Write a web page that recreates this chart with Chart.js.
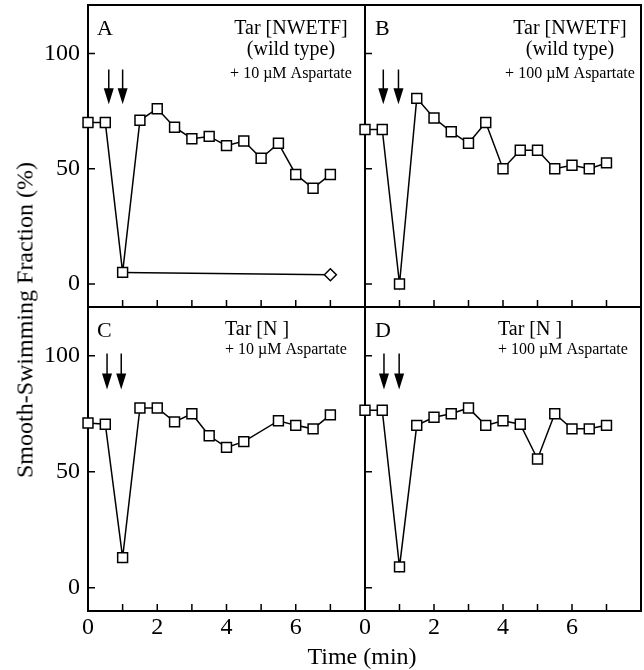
<!DOCTYPE html>
<html>
<head>
<meta charset="utf-8">
<script src="https://cdn.jsdelivr.net/npm/chart.js@4.4.1/dist/chart.umd.min.js"></script>
<style>
  html, body { margin: 0; padding: 0; background: #fff; }
  #wrap { position: relative; width: 644px; height: 670px; overflow: hidden;
          font-family: "Liberation Serif", "Times New Roman", serif; color: #000; }
  #wrap canvas { position: absolute; }
  .ytitle { position: absolute; left: 25px; top: 320px; white-space: nowrap; font-size: 24px;
            transform: translate(-50%, -50%) rotate(-90deg); }
  .xtitle { position: absolute; left: 362px; top: 656px; white-space: nowrap; font-size: 24px;
            transform: translate(-50%, -50%); }
</style>
</head>
<body>
<div id="wrap">
  <canvas id="pA" width="368" height="309" style="left:0;top:0"></canvas>
  <canvas id="pC" width="368" height="370" style="left:0;top:300px"></canvas>
  <canvas id="pB" width="304" height="309" style="left:340px;top:0"></canvas>
  <canvas id="pD" width="304" height="370" style="left:340px;top:300px"></canvas>
  <div class="ytitle">Smooth-Swimming Fraction (%)</div>
  <div class="xtitle">Time (min)</div>
</div>
<script>
// Sampling times (min)
const times = [0, 0.5, 1, 1.5, 2, 2.5, 3, 3.5, 4, 4.5, 5, 5.5, 6, 6.5, 7];
const timesNoFive = [0, 0.5, 1, 1.5, 2, 2.5, 3, 3.5, 4, 4.5, 5.5, 6, 6.5, 7];

// Smooth-swimming fraction (%)
const wildType10 = [70, 70, 5, 71, 76, 68, 63, 64, 60, 62, 54.5, 61, 47.5, 41.5, 47.5];
const wildType100 = [67, 67, 0, 80.5, 72, 66, 61, 70, 50, 58, 58, 50, 51.5, 50, 52.5];
const tarN10 = [71, 70.5, 13, 77.5, 77.5, 71.5, 75, 65.5, 60.5, 63, 72, 70, 68.5, 74.5];
const tarN100 = [76.5, 76.5, 9, 70, 73.5, 75, 77.5, 70, 72, 70.5, 55.5, 75, 68.5, 68.5, 70];

// Control run in panel A (drop and end point)
const controlTimes = [1, 7];
const control10 = [5, 4];

// Axis ticks
const yTickValues = [0, 50, 100];
const xLabelValues = [0, 2, 4, 6];
const xTickMarks = [1, 2, 3, 4, 5, 6, 7];

// Addition arrows: times (min) and vertical extent (%)
const arrowTimesA = [0.6, 1.0];
const arrowTimesB = [0.53, 0.97];
const arrowTimesC = [0.55, 0.96];
const arrowTimesD = [0.55, 0.99];
const arrowSpanAB = [93, 78];
const arrowSpanCD = [101, 85.5];

const FONT = '"Liberation Serif", "Times New Roman", serif';

const toPoints = (xs, ys) => xs.map((x, i) => ({ x, y: ys[i] }));

// Frame, inward tick marks, arrows and panel captions
const decorPlugin = {
  id: 'decor',
  beforeDatasetsDraw(chart, args, opts) {
    const { ctx, chartArea: a, scales } = chart;
    ctx.save();
    ctx.strokeStyle = '#000';
    ctx.fillStyle = '#000';
    ctx.lineWidth = 2;
    ctx.strokeRect(a.left, a.top, a.right - a.left, a.bottom - a.top);
    ctx.lineWidth = 1.5;
    ctx.beginPath();
    yTickValues.forEach(v => {
      const y = scales.y.getPixelForValue(v);
      ctx.moveTo(a.left, y); ctx.lineTo(a.left + 7, y);
    });
    xTickMarks.forEach(v => {
      const x = scales.x.getPixelForValue(v);
      ctx.moveTo(x, a.bottom); ctx.lineTo(x, a.bottom - 7);
    });
    ctx.stroke();
    // arrows
    opts.arrowTimes.forEach(t => {
      const x = scales.x.getPixelForValue(t);
      const y0 = scales.y.getPixelForValue(opts.arrowSpan[0]);
      const y1 = scales.y.getPixelForValue(opts.arrowSpan[1]);
      ctx.lineWidth = 1.5;
      ctx.beginPath(); ctx.moveTo(x, y0); ctx.lineTo(x, y1 - 12); ctx.stroke();
      ctx.beginPath();
      ctx.moveTo(x - 5, y1 - 16); ctx.lineTo(x + 5, y1 - 16); ctx.lineTo(x, y1);
      ctx.closePath(); ctx.fill();
    });
    // panel letter
    ctx.textBaseline = 'alphabetic';
    ctx.textAlign = 'left';
    ctx.font = '22px ' + FONT;
    ctx.fillText(opts.letter, a.left + opts.letterDx, a.top + 30);
    // caption
    ctx.textAlign = opts.captionAlign;
    opts.caption.forEach(line => {
      ctx.font = line.size + 'px ' + FONT;
      ctx.fillText(line.text, a.left + opts.captionDx, a.top + line.dy);
    });
    ctx.restore();
  }
};

function makePanel(id, cfg) {
  const datasets = [{
    data: cfg.points,
    borderColor: '#000',
    borderWidth: 1.5,
    pointStyle: 'rect',
    pointRadius: 7,
    pointBackgroundColor: '#fff',
    pointBorderColor: '#000',
    pointBorderWidth: 1.5,
    tension: 0,
    clip: false
  }];
  if (cfg.control) {
    datasets.push({
      data: cfg.control,
      borderColor: '#000',
      borderWidth: 1.5,
      pointStyle: 'rectRot',
      pointRadius: [0, 6],
      pointBackgroundColor: '#fff',
      pointBorderColor: '#000',
      pointBorderWidth: 1.5,
      tension: 0,
      clip: false
    });
  }
  return new Chart(document.getElementById(id), {
    type: 'line',
    data: { datasets },
    plugins: [decorPlugin],
    options: {
      responsive: false,
      animation: false,
      devicePixelRatio: 1,
      layout: { padding: cfg.padding, autoPadding: false },
      plugins: {
        legend: { display: false },
        tooltip: { enabled: false },
        decor: cfg.decor
      },
      scales: {
        x: {
          type: 'linear', min: 0, max: 8,
          grid: { display: false, drawTicks: false },
          border: { display: false },
          ticks: {
            display: cfg.showX, padding: 2, autoSkip: false, maxRotation: 0,
            color: '#000', font: { family: FONT, size: 24 }
          },
          afterBuildTicks: ax => { ax.ticks = xLabelValues.map(v => ({ value: v })); },
          afterFit: ax => {
            ax.height = cfg.xHeight;
            ax.paddingLeft = 0; ax.paddingRight = 0;
          }
        },
        y: {
          type: 'linear', min: -10, max: 121,
          grid: { display: false, drawTicks: false },
          border: { display: false },
          ticks: {
            display: cfg.showY, padding: 8, autoSkip: false,
            color: '#000', font: { family: FONT, size: 24 }
          },
          afterBuildTicks: ax => { ax.ticks = yTickValues.map(v => ({ value: v })); },
          afterFit: ax => {
            ax.width = cfg.yWidth;
            ax.paddingTop = 0; ax.paddingBottom = 0;
          }
        }
      }
    }
  });
}

const capWT = (conc) => [
  { text: 'Tar [NWETF]', size: 20, dy: 29 },
  { text: '(wild type)', size: 20, dy: 50 },
  { text: '+ ' + conc + ' \u00B5M Aspartate', size: 16, dy: 73 }
];
const capN = (conc) => [
  { text: 'Tar [N ]', size: 20, dy: 28 },
  { text: '+ ' + conc + ' \u00B5M Aspartate', size: 16, dy: 47 }
];

makePanel('pA', {
  points: toPoints(times, wildType10),
  control: toPoints(controlTimes, control10),
  padding: { left: 0, top: 5, right: 3, bottom: 2 },
  showX: false, showY: true, xHeight: 0, yWidth: 88,
  decor: { letter: 'A', letterDx: 9, caption: capWT(10), captionAlign: 'center', captionDx: 203,
           arrowTimes: arrowTimesA, arrowSpan: arrowSpanAB }
});
makePanel('pC', {
  points: toPoints(timesNoFive, tarN10),
  padding: { left: 0, top: 7, right: 3, bottom: 0 },
  showX: true, showY: true, xHeight: 59, yWidth: 88,
  decor: { letter: 'C', letterDx: 9, caption: capN(10), captionAlign: 'left', captionDx: 137,
           arrowTimes: arrowTimesC, arrowSpan: arrowSpanCD }
});
makePanel('pB', {
  points: toPoints(times, wildType100),
  padding: { left: 25, top: 5, right: 3, bottom: 2 },
  showX: false, showY: false, xHeight: 0, yWidth: 0,
  decor: { letter: 'B', letterDx: 10, caption: capWT(100), captionAlign: 'center', captionDx: 205,
           arrowTimes: arrowTimesB, arrowSpan: arrowSpanAB }
});
makePanel('pD', {
  points: toPoints(times, tarN100),
  padding: { left: 25, top: 7, right: 3, bottom: 0 },
  showX: true, showY: false, xHeight: 59, yWidth: 0,
  decor: { letter: 'D', letterDx: 10, caption: capN(100), captionAlign: 'left', captionDx: 133,
           arrowTimes: arrowTimesD, arrowSpan: arrowSpanCD }
});
</script>
</body>
</html>
